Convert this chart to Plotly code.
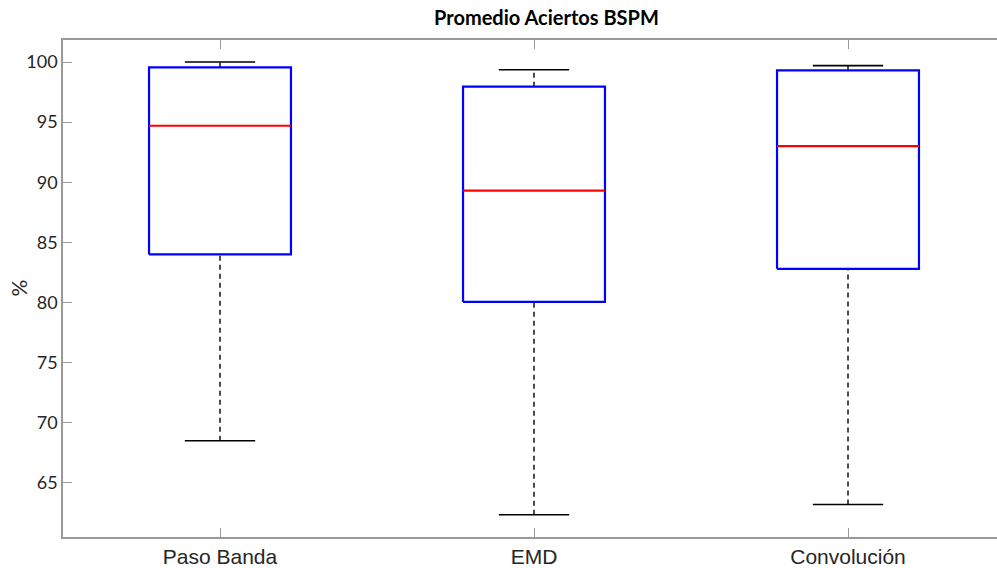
import plotly.graph_objects as go

# Summary statistics per filtering method (percent of hits)
categories = ["Paso Banda", "EMD", "Convolución"]
lower_whisker = [68.5, 62.35, 63.2]
q1 = [84.0, 80.05, 82.8]
median = [94.7, 89.3, 93.0]
q3 = [99.55, 97.95, 99.3]
upper_whisker = [100.0, 99.35, 99.7]
y_ticks = [65, 70, 75, 80, 85, 90, 95, 100]

BOX_HALF = 0.226
CAP_HALF = 0.112
AXIS_GRAY = "#9a9a9a"

fig = go.Figure()

def add_line(xs, ys, color, width, dash="solid"):
    fig.add_trace(go.Scatter(x=xs, y=ys, mode="lines",
                             line=dict(color=color, width=width, dash=dash),
                             hoverinfo="skip", showlegend=False))

for i, cat in enumerate(categories):
    pos = i + 1
    # whiskers (dashed) from box to caps
    add_line([pos, pos], [q3[i], upper_whisker[i]], "black", 1.4, "5px,4px")
    add_line([pos, pos], [lower_whisker[i], q1[i]], "black", 1.4, "5px,4px")
    # caps
    add_line([pos - CAP_HALF, pos + CAP_HALF], [upper_whisker[i]] * 2, "black", 1.6)
    add_line([pos - CAP_HALF, pos + CAP_HALF], [lower_whisker[i]] * 2, "black", 1.6)
    # box
    add_line([pos - BOX_HALF, pos + BOX_HALF, pos + BOX_HALF, pos - BOX_HALF, pos - BOX_HALF],
             [q1[i], q1[i], q3[i], q3[i], q1[i]], "#0000ff", 2.2)
    # median
    add_line([pos - BOX_HALF, pos + BOX_HALF], [median[i]] * 2, "#ff0000", 2.2)

fig.update_layout(
    width=997, height=568,
    margin=dict(l=63, r=0, t=40, b=31),
    paper_bgcolor="white", plot_bgcolor="white",
    xaxis=dict(
        range=[0.5, 3.4745],
        tickvals=[1, 2, 3], ticktext=categories,
        ticks="inside", ticklen=9, tickcolor=AXIS_GRAY, tickwidth=1,
        showline=True, linecolor=AXIS_GRAY, linewidth=1.5, mirror="ticks",
        showgrid=False, zeroline=False,
        tickfont=dict(family="Liberation Sans", size=21, color="#262626"),
    ),
    yaxis=dict(
        range=[60.5, 101.83],
        tickvals=y_ticks, ticktext=[str(v) for v in y_ticks],
        ticks="inside", ticklen=9, tickcolor=AXIS_GRAY, tickwidth=1,
        showline=True, linecolor=AXIS_GRAY, linewidth=1.5,
        showgrid=False, zeroline=False,
        tickfont=dict(family="Lato", size=18, color="#262626"),
    ),
    annotations=[
        dict(text="<b>Promedio Aciertos BSPM</b>", xref="paper", yref="paper",
             x=(546 - 63) / 934, y=1, yshift=23, showarrow=False,
             xanchor="center", yanchor="middle",
             font=dict(family="Lato", size=20, color="black")),
        dict(text="%", xref="paper", yref="paper",
             x=(18 - 63) / 934, y=0.5, showarrow=False, textangle=-90,
             xanchor="center", yanchor="middle",
             font=dict(family="Lato", size=21, color="#262626")),
    ],
)

fig.write_html("out.html")
